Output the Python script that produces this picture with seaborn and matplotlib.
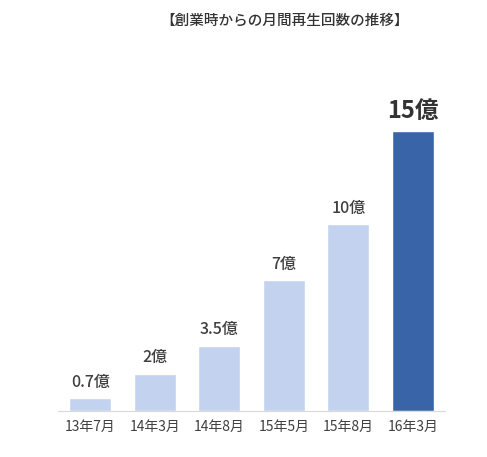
import matplotlib
matplotlib.use("Agg")
import matplotlib.pyplot as plt
import seaborn as sns
import pandas as pd

months = ["13年7月", "14年3月", "14年8月", "15年5月", "15年8月", "16年3月"]
views = [0.7, 2, 3.5, 7, 10, 15]
labels = ["0.7億", "2億", "3.5億", "7億", "10億", "15億"]
colors = ["#c3d3ef"] * 5 + ["#3a64a8"]

sns.set_style("white")
plt.rcParams['font.family'] = ['Noto Sans CJK JP', 'DejaVu Sans']

df = pd.DataFrame({"month": months, "views": views})
fig = plt.figure(figsize=(4.87, 4.57), dpi=100)
ax = fig.add_axes([0.119, 0.10, 0.795, 0.769])
sns.barplot(data=df, x="month", y="views", hue="month", palette=colors,
            legend=False, width=0.65, ax=ax, saturation=1)

for i, (v, lab) in enumerate(zip(views, labels)):
    last = i == len(views) - 1
    ax.text(i, v + 0.4, lab, ha="center", va="bottom",
            fontsize=17 if last else 11.5, fontweight="bold" if last else "medium",
            color="#333333" if last else "#404040")

ax.set_ylim(0, 18.8)
ax.set_xlim(-0.5, 5.5)
ax.set_xlabel("")
ax.set_ylabel("")
ax.set_yticks([])
ax.tick_params(axis="x", length=0, labelsize=10, colors="#404040", pad=6)
for s in ["top", "right", "left"]:
    ax.spines[s].set_visible(False)
ax.spines["bottom"].set_color("#d9d9d9")

fig.text(0.585, 0.955, "【創業時からの月間再生回数の推移】", ha="center", va="center",
         fontsize=10.5, color="#333333", fontweight="medium")

fig.savefig("out.png", dpi=100)
